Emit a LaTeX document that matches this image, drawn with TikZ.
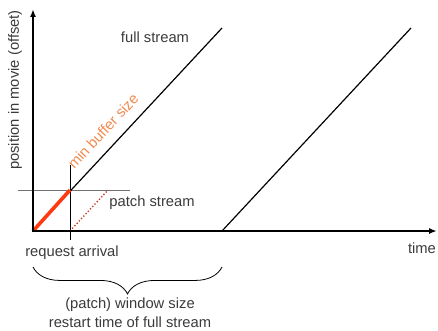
\documentclass[tikz,border=0pt]{standalone}
\usepackage{fontspec}
\setmainfont{Liberation Sans}
\usepackage{xcolor}
\usetikzlibrary{arrows.meta,decorations.pathreplacing}
\definecolor{txt}{HTML}{3A3A3A}
\definecolor{patchred}{HTML}{FF3A10}
\definecolor{dotred}{HTML}{C8341A}
\definecolor{bufor}{HTML}{F08A50}
\definecolor{guide}{HTML}{707070}
\tikzset{
  axis/.style={line width=1.7pt, -{Latex[length=8pt,width=6pt]}},
  strm/.style={line width=1.2pt},
  lab/.style={text=txt, font=\fontsize{14.8}{16}\selectfont, inner sep=0pt},
  blab/.style={text=bufor, font=\fontsize{14.8}{16}\selectfont, inner sep=0pt},
}

\begin{document}
\begin{tikzpicture}[x=1bp,y=1bp]
  \useasboundingbox (0,0) rectangle (438,330);

  \coordinate (O) at (33,99);     % origin
  \coordinate (Ytop) at (33,321); % axis top
  \coordinate (Xend) at (437,99); % axis end
  \coordinate (F1) at (222,302);  % first full stream top
  \coordinate (S2) at (222,99);   % restart of full stream
  \coordinate (F2) at (411,302);  % second full stream top
  \coordinate (B) at (70,140);    % buffer point
  \coordinate (R) at (70,99);     % request arrival
  \coordinate (Pt) at (108,140);  % patch stream end

  % guides
  \draw[guide, line width=0.9pt] (18,140) -- (130,140);
  \draw[line width=0.7pt] (70,165) -- (70,90);

  % streams
  \draw[strm] (O) -- (F1);
  \draw[strm] (S2) -- (F2);
  \draw[patchred, line width=3.6pt] (O) -- (B);
  \draw[dotred, line width=1.3pt, dotted] (R) -- (Pt);

  % axes
  \draw[axis] (33,98) -- (Ytop);
  \draw[axis] (32,99) -- (Xend);

  \node[lab] at (155,293) {full stream};
  \node[blab, rotate=47] at (103,199) {min buffer size};
  \node[lab, rotate=90] at (15,240) {position in movie (offset)};
  \node[lab] at (152,127) {patch stream};
  \node[lab] at (422,82) {time};
  \node[lab] at (72,77) {request arrival};

  \draw[line width=0.8pt, decorate, decoration={brace, mirror, amplitude=27pt}] (33,63) -- (222,63);
  \node[lab] at (130,25) {(patch) window size};
  \node[lab] at (130,8) {restart time of full stream};
\end{tikzpicture}
\end{document}
